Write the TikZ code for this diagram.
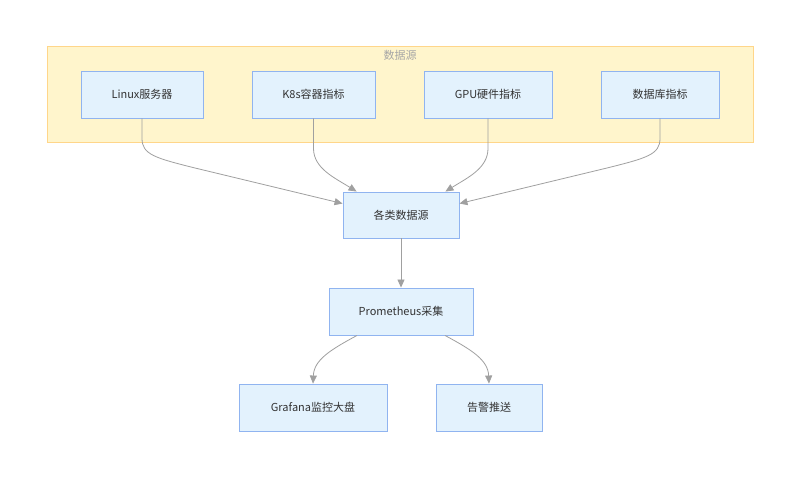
\documentclass[tikz,border=0pt]{standalone}
\usepackage{fontspec}
\setmainfont{Noto Sans CJK SC}
\usetikzlibrary{arrows.meta,calc}
\definecolor{clfill}{HTML}{FFF5CC}
\definecolor{cldraw}{HTML}{FFD68A}
\definecolor{nfill}{HTML}{E3F2FD}
\definecolor{ndraw}{HTML}{90B4F0}
\definecolor{edgec}{HTML}{A0A0A0}
\definecolor{txt}{HTML}{333333}
\tikzset{
  box/.style={draw=ndraw, fill=nfill, line width=0.9pt, minimum height=47pt, inner sep=0pt, text=txt, font=\fontsize{11pt}{13pt}\selectfont},
  link/.style={draw=edgec, line width=0.8pt, -{Triangle[length=8pt,width=7pt,fill=edgec]}}
}
\begin{document}
\begin{tikzpicture}[x=1pt,y=-1pt]
\useasboundingbox (0,0) rectangle (800,478);
\fill[white] (0,0) rectangle (800,478);
\draw[draw=cldraw, fill=clfill, line width=1pt] (47,47) rectangle (753,143);
\node[text=black!35, font=\fontsize{11pt}{13pt}\selectfont] (title) at (400,55.5) {数据源};
\node[box, minimum width=122pt] (lin) at (142,94.5) {Linux服务器};
\node[box, minimum width=123pt] (k8s) at (313.5,94.5) {K8s容器指标};
\node[box, minimum width=128pt] (gpu) at (488,94.5) {GPU硬件指标};
\node[box, minimum width=118pt] (db) at (660,94.5) {数据库指标};
\node[box, minimum width=116pt, minimum height=46pt] (agg) at (401,215) {各类数据源};
\node[box, minimum width=144pt] (prom) at (401,311.5) {Prometheus采集};
\node[box, minimum width=148pt] (graf) at (313,407.5) {Grafana监控大盘};
\node[box, minimum width=106pt] (alert) at (489,407.5) {告警推送};
\draw[link] (lin.south) -- ++(0,20) .. controls ++(0,16) and (155,158) .. (195,168) -- ([yshift=-12pt]agg.north west);
\draw[link] (k8s.south) -- ++(0,30) .. controls ++(0,20) and (335,178) .. ([xshift=14pt]agg.north west);
\draw[link] (gpu.south) -- ++(0,30) .. controls ++(0,20) and (467,178) .. ([xshift=-14pt]agg.north east);
\draw[link] (db.south) -- ++(0,20) .. controls ++(0,16) and (647,158) .. (607,168) -- ([yshift=-12pt]agg.north east);
\draw[link] (agg.south) -- (prom.north);
\draw[link] ([xshift=-44pt]prom.south) .. controls (330,350) and (314,360) .. (graf.north);
\draw[link] ([xshift=44pt]prom.south) .. controls (472,350) and (488,360) .. (alert.north);
\end{tikzpicture}
\end{document}
